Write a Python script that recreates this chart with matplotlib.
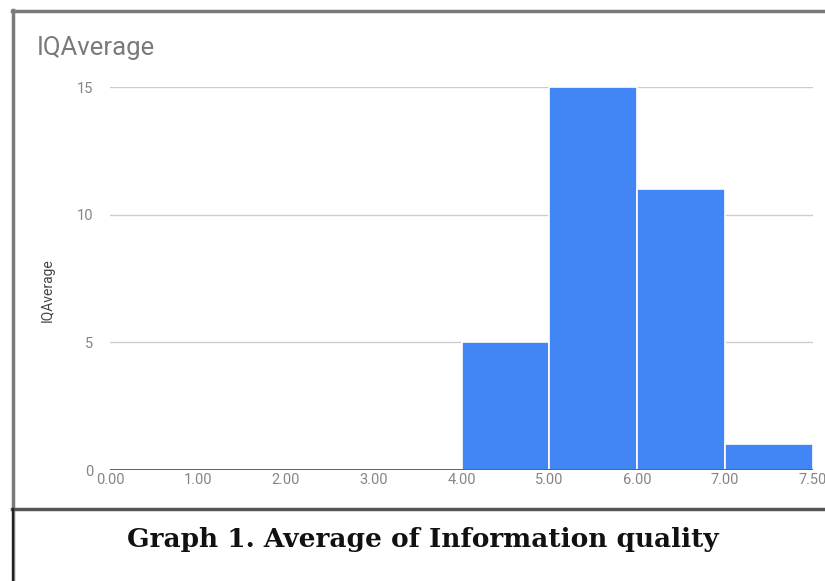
import matplotlib.pyplot as plt
from matplotlib.lines import Line2D

# histogram buckets of IQ averages (bucket index -> count)
bin_labels = ["0.00", "1.00", "2.00", "3.00", "4.00", "5.00", "6.00", "7.00", "7.50"]
counts = [0, 0, 0, 0, 5, 15, 11, 1]
y_ticks = [0, 5, 10, 15]

fig = plt.figure(figsize=(8.25, 5.81), dpi=100)
W, H = 825, 581

ax = fig.add_axes([110 / W, 1 - 470 / H, (813 - 110) / W, (470 - 87) / H])

blue = "#4285f4"
for i, c in enumerate(counts):
    if c > 0:
        ax.bar(i, c, width=1.0, align="edge", color=blue,
               edgecolor="white", linewidth=1.2, zorder=3)

ax.set_xlim(0, len(counts))
ax.set_ylim(0, 15)
ax.set_xticks(range(len(bin_labels)))
ax.set_xticklabels(bin_labels)
ax.set_yticks(y_ticks)
ax.tick_params(axis="both", length=0, labelsize=10.5, labelcolor="#858585")
ax.tick_params(axis="x", pad=2)
ax.tick_params(axis="y", pad=12)
for lbl in ax.get_xticklabels() + ax.get_yticklabels():
    lbl.set_fontfamily("Roboto")

for v in y_ticks[1:]:
    ax.axhline(v, color="#cccccc", linewidth=1.0, zorder=1)
ax.axhline(0, color="#555555", linewidth=1.3, zorder=4)
for s in ax.spines.values():
    s.set_visible(False)

ax.set_ylabel("IQAverage", fontsize=10, color="#444444", family="Roboto")
ax.yaxis.set_label_coords((55 - 110) / (813 - 110), 0.47)

fig.text(37 / W, 1 - 48 / H, "IQAverage", fontsize=18.5, color="#7a7a7a",
         family="Roboto", va="center", ha="left")

# outer frame and caption box
frame_color = "#7a7a7a"
fig.add_artist(Line2D([12 / W, 1], [1 - 11 / H, 1 - 11 / H], color=frame_color,
                      linewidth=2.5, transform=fig.transFigure))
fig.add_artist(Line2D([13 / W, 13 / W], [0, 1 - 10 / H], color=frame_color,
                      linewidth=2.5, transform=fig.transFigure))
fig.add_artist(Line2D([12 / W, 1], [1 - 509 / H, 1 - 509 / H], color="#555555",
                      linewidth=2.5, transform=fig.transFigure))
fig.add_artist(Line2D([13 / W, 13 / W], [0, 1 - 509 / H], color="#222222",
                      linewidth=1.5, transform=fig.transFigure))

fig.text(423 / W, 1 - 540 / H, "Graph 1. Average of Information quality",
         fontsize=19, fontweight="bold", family="DejaVu Serif",
         color="#111111", ha="center", va="center")

fig.savefig("out.png", dpi=100)
